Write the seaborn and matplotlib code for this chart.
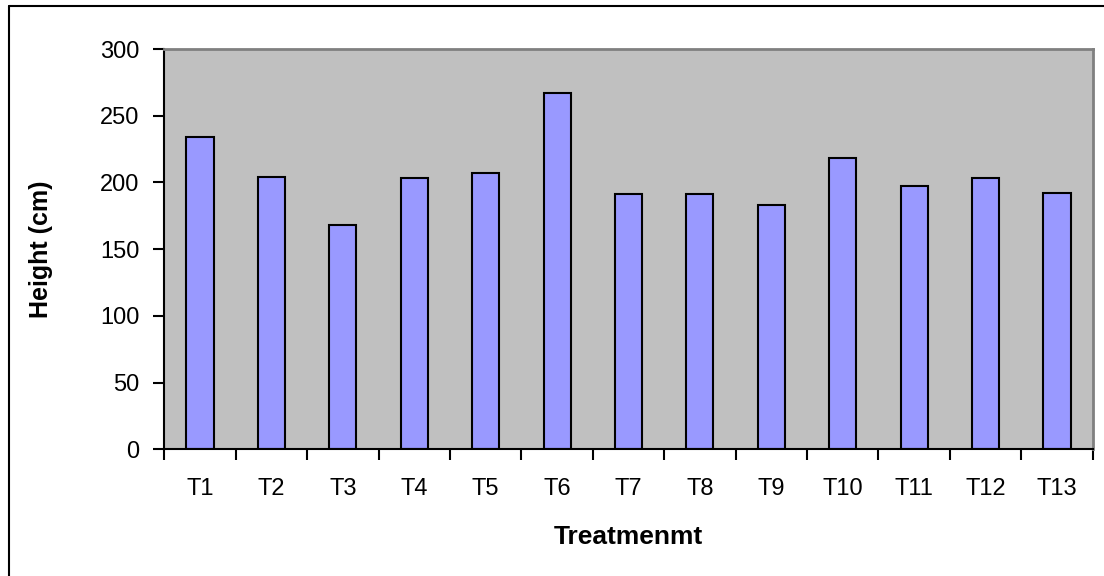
import matplotlib
matplotlib.use("Agg")
import matplotlib.pyplot as plt
from matplotlib.lines import Line2D
import seaborn as sns
import pandas as pd
import numpy as np

# Mean plant height per treatment
treatments = ["T1", "T2", "T3", "T4", "T5", "T6", "T7",
              "T8", "T9", "T10", "T11", "T12", "T13"]
heights = [234, 204, 168, 203, 207, 267, 191, 191, 183, 218, 197, 203, 192]
y_ticks = [0, 50, 100, 150, 200, 250, 300]

df = pd.DataFrame({"Treatment": treatments, "Height": heights})

sns.set_theme(style="white")
plt.rcParams["font.family"] = ["Liberation Sans", "DejaVu Sans"]
plt.rcParams["text.color"] = "black"
plt.rcParams["axes.labelcolor"] = "black"
plt.rcParams["xtick.color"] = "black"
plt.rcParams["ytick.color"] = "black"

fig = plt.figure(figsize=(11.04, 5.76), dpi=100)
ax = fig.add_axes([164.3 / 1104, 1 - 449.3 / 576,
                   (1092.7 - 164.3) / 1104, (449.3 - 49) / 576])
ax.set_facecolor("#C0C0C0")

sns.barplot(data=df, x="Treatment", y="Height", ax=ax, color="#9999FF",
            saturation=1, width=0.38, edgecolor="black", linewidth=1.5,
            errorbar=None)

ax.set_ylim(0, 300)
ax.set_xlim(-0.5, len(treatments) - 0.5)
ax.set_yticks(y_ticks)
ax.set_yticklabels([str(v) for v in y_ticks], fontsize=17)

# category labels centred, tick marks on category boundaries
ax.set_xticks(range(len(treatments)))
ax.set_xticklabels(treatments, fontsize=17)
ax.set_xticks(np.arange(-0.5, len(treatments)), minor=True)
ax.tick_params(axis="x", which="major", length=0, pad=21)
ax.tick_params(axis="x", which="minor", length=8, width=1.5,
               color="black", direction="out", bottom=True)
ax.tick_params(axis="y", which="major", length=8, width=1.5,
               color="black", direction="out", left=True, pad=10)

for side in ("left", "bottom"):
    ax.spines[side].set_color("black")
    ax.spines[side].set_linewidth(1.5)
for side in ("top", "right"):
    ax.spines[side].set_color("#808080")
    ax.spines[side].set_linewidth(2)
    ax.spines[side].set_visible(True)

ax.set_xlabel("Treatmenmt", fontsize=19, fontweight="bold", labelpad=18)
ax.set_ylabel("Height (cm)", fontsize=18, fontweight="bold", labelpad=34)

# chart frame (top and left edges)
fig.add_artist(Line2D([9 / 1104, 1], [1 - 6 / 576, 1 - 6 / 576],
                      transform=fig.transFigure, color="black", linewidth=1.5))
fig.add_artist(Line2D([9 / 1104, 9 / 1104], [0, 1 - 6 / 576],
                      transform=fig.transFigure, color="black", linewidth=1.5))

fig.savefig("out.png", dpi=100)
